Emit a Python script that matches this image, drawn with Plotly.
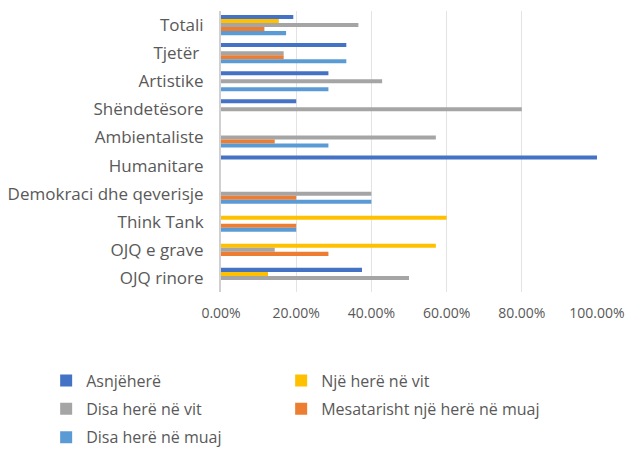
import plotly.graph_objects as go

categories = ["Totali", "Tjetër ", "Artistike", "Shëndetësore", "Ambientaliste",
              "Humanitare", "Demokraci dhe qeverisje", "Think Tank", "OJQ e grave", "OJQ rinore"]

series_names = ["Asnjëherë", "Një herë në vit", "Disa herë në vit",
                "Mesatarisht një herë në muaj", "Disa herë në muaj"]

asnjehere = [0.1923, 0.3333, 0.2857, 0.20, 0.0, 1.00, 0.0, 0.0, 0.0, 0.375]
nje_here_vit = [0.1538, 0.0, 0.0, 0.0, 0.0, 0.0, 0.0, 0.60, 0.5714, 0.125]
disa_here_vit = [0.3654, 0.1667, 0.4286, 0.80, 0.5714, 0.0, 0.40, 0.0, 0.1429, 0.50]
mesatarisht = [0.1154, 0.1667, 0.0, 0.0, 0.1429, 0.0, 0.20, 0.20, 0.2857, 0.0]
disa_here_muaj = [0.1731, 0.3333, 0.2857, 0.0, 0.2857, 0.0, 0.40, 0.20, 0.0, 0.0]

tick_vals = [0, 0.2, 0.4, 0.6, 0.8, 1.0]
tick_text = ["0.00%", "20.00%", "40.00%", "60.00%", "80.00%", "100.00%"]

colors = ["#4472C4", "#FFC000", "#A5A5A5", "#ED7D31", "#5B9BD5"]
legend_ids = ["legend", "legend2", "legend", "legend2", "legend"]
all_values = [asnjehere, nje_here_vit, disa_here_vit, mesatarisht, disa_here_muaj]

FONT = "Open Sans"
TXT = "#595959"

fig = go.Figure()
for name, vals, col, lg in zip(series_names, all_values, colors, legend_ids):
    fig.add_trace(go.Bar(
        y=categories, x=vals, name=name, orientation="h",
        marker=dict(color=col, line=dict(width=0)),
        legend=lg, legendgroup=name,
    ))

legend_common = dict(
    orientation="v", yanchor="top", y=-0.255, xanchor="left",
    traceorder="grouped", tracegroupgap=4.5,
    font=dict(family=FONT, size=16, color=TXT),
    bgcolor="rgba(0,0,0,0)",
)

fig.update_layout(
    width=636, height=444,
    margin=dict(l=213, r=47, t=3, b=160, autoexpand=False),
    paper_bgcolor="white", plot_bgcolor="white",
    barmode="group", bargap=0.28, bargroupgap=0.0,
    font=dict(family=FONT, size=15, color=TXT),
    showlegend=True,
    legend=dict(x=-0.465, **legend_common),
    legend2=dict(x=0.160, **legend_common),
    xaxis=dict(
        range=[0, 1.0], tickvals=tick_vals, ticktext=tick_text,
        showgrid=True, gridcolor="#E3E3E3", gridwidth=1,
        zeroline=False, showline=False, ticks="",
        tickfont=dict(family=FONT, size=14, color=TXT),
        ticklabelstandoff=11,
    ),
    yaxis=dict(
        categoryorder="array", categoryarray=categories, autorange="reversed",
        showline=True, linecolor="#D0D0D0", linewidth=2, ticks="",
        showgrid=False,
        tickfont=dict(family=FONT, size=17, color=TXT),
        ticklabelstandoff=12,
    ),
)

fig.write_html("out.html")
